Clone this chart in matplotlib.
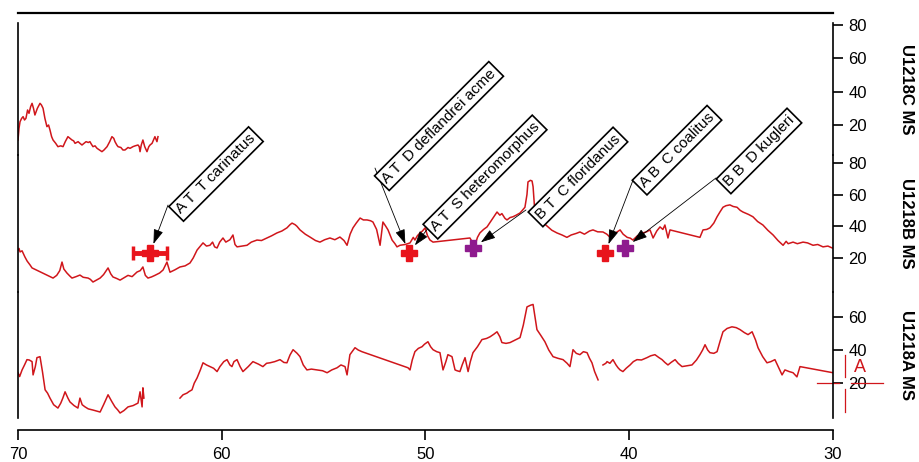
import numpy as np
import matplotlib
matplotlib.use('Agg')
import matplotlib.pyplot as plt

plt.rcParams['font.family'] = ['Liberation Sans', 'DejaVu Sans']

nan = np.nan

# U1218C magnetic susceptibility vs age (Ma)
c_age = [70.00, 69.95, 69.90, 69.82, 69.75, 69.68, 69.61, 69.53, 69.46, 69.38,
         69.31, 69.24, 69.17, 69.05, 68.92, 68.85, 68.77, 68.68, 68.58, 68.50,
         68.43, 68.35, 68.28, 68.15, 68.04, 67.90, 67.79, 67.68, 67.55, 67.45,
         67.35, 67.27, 67.20, 67.05, 66.96, 66.86, 66.76, 66.66, 66.55, 66.47,
         66.40, 66.32, 66.22, 66.12, 66.00, 65.88, 65.78, 65.63, 65.50, 65.39,
         65.30, 65.24, 65.15, 65.09, 64.95, 64.85, 64.75, 64.60, 64.50, 64.36,
         64.25, 64.11, 64.05, 64.01, 63.95, 63.87, 63.78, 63.67, 63.58, 63.52,
         63.42, 63.35, 63.28, 63.18, 63.13]
c_ms = [11, 18, 22, 24, 25, 23, 24, 29, 27, 31,
        33, 30, 26, 30, 33, 32, 30, 24, 19, 20,
        17, 13, 11, 9, 7, 7.5, 7, 10, 13, 12,
        11, 10.5, 9, 10, 9, 8, 9, 10, 9.5, 10,
        8.5, 7, 7.5, 6, 5, 4, 5, 7, 10, 13,
        12, 10, 8, 7, 6.5, 5, 5, 6.5, 6, 7,
        7.5, 8, 7, 4, 8, 11, 7, 4, 7, 8,
        9, 11, 13, 10, 13]

# U1218B
b_age = [70.00, 69.95, 69.90, 69.80, 69.66, 69.55, 69.41, 69.31, 68.28, 68.10,
         67.95, 67.84, 67.75, 67.60, 67.45, 67.35, 67.15, 66.96, 66.80, 66.56,
         66.45, 66.32, 66.15, 65.97, 65.80, 65.58, 65.45, 65.34, 65.15, 64.99,
         64.80, 64.60, 64.40, 64.16, 64.00, 63.87, 63.75, 63.62, 63.45, 63.28,
         63.05, 62.88, 62.69, 62.54, 62.30, 62.05, 61.80, 61.56, 61.40, 61.21,
         61.05, 60.92, 60.75, 60.58, 60.45, 60.35, 60.23, 60.10, 59.94, 59.80,
         59.60, 59.45, 59.35, 59.25, 59.00, 58.76, 58.55, 58.27, 58.05, 57.78,
         57.55, 57.29, 57.05, 56.80, 56.65, 56.55, 56.40, 56.31, 56.16, 55.90,
         55.67, 55.40, 55.18, 54.95, 54.69, 54.45, 54.20, 54.00, 53.85, 53.70,
         53.56, 53.40, 53.21, 53.05, 52.87, 52.70, 52.58, 52.40, 52.23, 52.09,
         51.95, 51.84, 51.64, 51.50, 51.40, 51.25, 51.00, 50.76, 50.60, 50.52,
         50.40, 50.27, 50.15, 50.02, 49.90, 49.78, 49.63, 47.82, 47.70, 47.57,
         47.45, 47.33, 47.15, 46.98, 46.75, 46.49, 46.35, 46.25, 46.10, 46.00,
         45.85, 45.71, 45.55, 45.36, 45.25, 45.12, 45.02, 44.97, 44.85, 44.77,
         44.72, 44.63, 44.40, 44.20, 43.99, 43.80, 43.55, 43.30, 43.06, 42.85,
         42.60, 42.42, 42.20, 41.95, 41.78, 41.55, 41.29, 41.10, 40.94, 40.75,
         40.60, 40.45, 40.30, 40.10, 39.95, 39.82, 39.60, 39.33, 39.15, 38.98,
         38.83, 38.65, 38.49, 38.35, 38.25, 38.10, 38.00, 36.53, 36.38, 36.20,
         36.04, 35.85, 35.69, 35.55, 35.40, 35.25, 35.06, 34.90, 34.71, 34.55,
         34.42, 34.15, 33.93, 33.70, 33.44, 33.20, 32.94, 32.70, 32.45, 32.30,
         32.20, 31.96, 31.75, 31.47, 31.25, 30.98, 30.75, 30.49, 30.25, 30.04]
b_ms = [25, 26, 23.8, 24.5, 20.6, 18, 15.6, 13.7, 7.3, 9,
        12, 17.4, 13, 10.5, 8.5, 7.3, 8.2, 9.2, 7.8, 7.3,
        6.5, 4.8, 6, 7.3, 9.5, 13.7, 10, 8, 7, 6,
        7.5, 9, 8.2, 11.1, 12, 14.3, 9, 7.3, 8, 9,
        10.5, 12.4, 17.4, 11, 12.5, 14.3, 15, 16.8, 20, 25,
        27.5, 29.5, 27.5, 28, 30, 27, 26.3, 30, 32.6, 30,
        31.5, 34.5, 28.5, 27, 27.5, 28, 30, 31.3, 31, 32.6,
        34, 35.8, 37, 39, 41, 42, 41, 40, 37.7, 35,
        33.2, 31, 30, 31.5, 32.6, 31.5, 33.2, 31, 28, 35,
        39, 42, 45.2, 44, 44, 43.5, 42.7, 38, 28, 42.7,
        40, 37.7, 31.3, 29, 27, 28, 28.5, 29.5, 33, 31.3,
        34, 35.8, 37, 39, 34, 31.3, 30, 32.6, 30, 28,
        33, 35.8, 38, 39.6, 44, 49, 47, 48, 45, 44,
        45.5, 46, 47, 48.4, 50, 52, 60, 68, 69, 68.6,
        65, 48.4, 45, 42, 39.6, 37.5, 35.8, 34.5, 33, 34.5,
        35.5, 36.4, 35, 37, 37.7, 36.5, 36.4, 35, 33, 35,
        36.4, 37.7, 35, 33, 32.5, 31.3, 34, 35.8, 36.5, 37.7,
        32.6, 37, 39.6, 38, 40.8, 32.6, 37.7, 33, 37.7, 38,
        39, 42, 46, 49, 52, 53, 53.5, 52.5, 52, 50,
        49, 47.5, 46, 43, 40.8, 37.5, 34.5, 31, 28, 30.5,
        29, 30, 29, 30, 29.5, 28, 28.5, 27, 27.5, 26.3]

# U1218A (nan marks core gaps)
a_age = [70.00, 69.92, 69.80, 69.68, 69.56, 69.45, 69.31, 69.26, 69.15, 69.07,
         68.92, 68.80, 68.67, 68.55, 68.43, 68.25, 68.04, 67.90, 67.80, 67.69,
         67.55, 67.45, 67.25, 67.06, 66.96, 66.85, 66.71, 66.55, 66.32, 66.15,
         65.97, 65.80, 65.58, 65.40, 65.24, 65.10, 64.99, 64.80, 64.60, 64.35,
         64.11, 64.01, 63.91, 63.87, 63.82, nan,
         62.05, 61.90, 61.71, 61.60, 61.46, 61.35, 61.21, 61.05, 60.92, 60.75,
         60.58, 60.40, 60.23, 60.09, 59.90, 59.74, 59.60, 59.50, 59.40, 59.25,
         59.10, 58.96, 58.70, 58.47, 58.20, 57.98, 57.80, 57.63, 57.40, 57.14,
         56.95, 56.80, 56.65, 56.50, 56.30, 56.16, 56.00, 55.82, 55.60, 55.33,
         55.05, 54.83, 54.60, 54.34, 54.15, 53.95, 53.85, 53.71, 53.60, 53.46,
         53.30, 53.12, 50.86, 50.76, 50.65, 50.52, 50.35, 50.17, 50.05, 49.88,
         49.75, 49.63, 49.45, 49.29, 49.14, 49.00, 48.90, 48.70, 48.55, 48.45,
         48.31, 48.20, 48.06, 47.91, 47.80, 47.67, 47.45, 47.23, 47.00, 46.83,
         46.65, 46.49, 46.35, 46.25, 46.05, 45.85, 45.60, 45.36, 45.20, 45.02,
         44.85, 44.72, 44.53, 44.35, 44.14, 43.95, 43.74, 43.50, 43.25, 43.05,
         42.91, 42.76, 42.60, 42.42, 42.25, 42.07, 41.95, 41.83, 41.70, 41.53, nan,
         41.29, 41.15, 41.09, 40.95, 40.80, 40.65, 40.55, 40.45, 40.31, 40.15,
         39.96, 39.80, 39.62, 39.40, 39.13, 38.95, 38.74, 38.55, 38.39, 38.25,
         38.10, 37.95, 37.75, 37.60, 37.41, 37.15, 36.92, 36.70, 36.53, 36.40,
         36.28, 36.15, 36.04, 35.85, 35.69, 35.55, 35.40, 35.20, 34.96, 34.75,
         34.56, 34.35, 34.17, 33.97, 33.80, 33.68, 33.45, 33.24, 33.05, 32.85,
         32.65, 32.50, 32.36, 32.15, 31.96, 31.77, 31.62, 30.00]
a_ms = [26.3, 24, 28, 31, 34.2, 34, 33, 25, 30, 35.4,
        36, 27, 16, 14, 11, 7, 5, 8, 11, 14.8,
        11, 8.7, 6.5, 5, 11, 7, 5.7, 4.5, 3.8, 3.2,
        2.6, 7, 13, 9, 5.7, 3.8, 2, 3.5, 5.7, 6.5,
        8, 14.8, 5.7, 17.2, 11, nan,
        11, 13, 14, 15, 16, 20, 23.2, 28, 32.3, 31,
        30, 29, 27, 30, 33, 34.2, 31, 30, 33, 34.2,
        30, 27, 30, 33, 31.5, 30, 32, 32.3, 33, 34.2,
        32.5, 32.3, 37, 40.2, 38, 36, 31, 28, 28.5, 28,
        27.5, 26.3, 28, 29.3, 31, 30, 25, 37.2, 39, 41.4,
        40, 39, 29.3, 28, 34, 39, 41, 42, 43.5, 45,
        42, 40.2, 39, 38.4, 28, 33, 37.2, 36, 28, 27.5,
        27, 31, 35.4, 27, 33, 38.4, 42, 46.3, 47, 48,
        49.5, 51, 48, 44.5, 44, 44.5, 46, 47.5, 55, 66,
        67, 67.5, 52.3, 49, 45, 40, 36, 35, 34.2, 32,
        30, 40.2, 38, 37.2, 39, 38.4, 35, 32.3, 27, 22, nan,
        31, 32, 33, 32, 34.2, 31, 29.3, 28, 27, 29,
        31, 33, 34.2, 34, 35.4, 36.5, 37.2, 35.5, 34.2, 32.5,
        31, 32.5, 34.2, 32, 30, 30.5, 31, 34, 37.2, 40,
        43.2, 40, 38.4, 38, 39, 45, 51, 53, 54, 53.5,
        52.3, 50.5, 49.3, 51, 46, 41.4, 36, 32.3, 33, 34.2,
        29, 25, 28, 27, 26.3, 23.8, 30, 26.3]

track_names = ['U1218C MS', 'U1218B MS', 'U1218A MS']
track_ticks = [[20, 40, 60, 80], [20, 40, 60, 80], [20, 40, 60]]
age_ticks = [70, 60, 50, 40, 30]

# biostratigraphic datums (plotted on U1218B)
carinatus_age = 63.52
carinatus_err = 0.83
carinatus_ms = 23.1
red_age = [50.81, 41.19]
red_ms = [23.1, 23.0]
purple_age = [47.67, 40.21]
purple_ms = [26.3, 26.3]

event_labels = ['A T  T carinatus', 'A T  D deflandrei acme', 'A T  S heteromorphus',
                'B T  C floridanus', 'A B  C coalitus', 'B B  D kugleri']
event_age = [63.52, 50.81, 50.81, 47.67, 41.19, 40.21]
event_ms = [23.1, 23.1, 23.1, 26.3, 23.0, 26.3]

# cursor A on U1218A
cursor_age = 29.41
cursor_ms = 20.2

# ---- layout ----
red = '#d0161b'
purple = '#8e1b8e'
W, H = 920, 462
fig = plt.figure(figsize=(W / 100, H / 100), dpi=100)
left, right = 18, 833
tracks_px = [(23, 155), (155, 292), (292, 418)]
ylims = [(2, 81.2), (-1.5, 85), (-1, 75)]

axes = []
for (top, bot), ylim, name, ticks in zip(tracks_px, ylims, track_names, track_ticks):
    ax = fig.add_axes([left / W, 1 - bot / H, (right - left) / W, (bot - top) / H])
    ax.set_facecolor('none')
    ax.set_xlim(70, 30)
    ax.set_ylim(*ylim)
    for s in ['top', 'bottom']:
        ax.spines[s].set_visible(False)
    for s in ['left', 'right']:
        ax.spines[s].set_linewidth(1.2)
    ax.yaxis.tick_right()
    ax.set_yticks(ticks)
    ax.tick_params(axis='y', direction='out', length=7, width=1.2, pad=4, labelsize=12)
    ax.set_xticks([])
    ax.yaxis.set_label_position('right')
    ax.set_ylabel(name, rotation=270, fontsize=12, fontweight='bold', va='center', ha='center')
    ax.yaxis.set_label_coords(1.0896, 0.5)
    axes.append(ax)

ax_c, ax_b, ax_a = axes
ax_b.set_zorder(3)

ax_c.spines['top'].set_visible(True)
ax_c.spines['top'].set_linewidth(1.6)
ax_c.spines['top'].set_position(('outward', 7.2))

ax_a.spines['bottom'].set_visible(True)
ax_a.spines['bottom'].set_linewidth(1.2)
ax_a.spines['bottom'].set_position(('outward', 8.6))
ax_a.set_xticks(age_ticks)
ax_a.tick_params(axis='x', direction='out', length=7, width=1.2, pad=5, labelsize=12)

ax_c.plot(c_age, c_ms, color=red, lw=1.1)
ax_b.plot(b_age, b_ms, color=red, lw=1.1)
ax_a.plot(a_age, a_ms, color=red, lw=1.1)

# datum markers
ax_b.errorbar(carinatus_age, carinatus_ms, xerr=carinatus_err, fmt='P', color='#e8141c',
              ms=11, elinewidth=3.5, capsize=5, capthick=2.5, zorder=5)
ax_b.plot(red_age, red_ms, 'P', color='#e8141c', ms=11, mec='#e8141c', zorder=5)
ax_b.plot(purple_age, purple_ms, 'P', color=purple, ms=11, mec=purple, zorder=5)

# label boxes and arrows (offsets in pixels from datum)
label_offset = [(66, 79), (30, 127), (76, 76), (105, 71), (72, 103), (134, 97)]
arrow_start = [(18, 48), (-34, 85), (23, 30), (53, 38), (28, 73), (91, 70)]

for lab, x, y, lo, ao in zip(event_labels, event_age, event_ms, label_offset, arrow_start):
    ax_b.annotate('', xy=(x, y), xytext=ao, textcoords='offset pixels',
                  annotation_clip=False,
                  arrowprops=dict(arrowstyle='-|>,head_length=0.9,head_width=0.3',
                                  color='black', lw=0.6, shrinkA=0, shrinkB=7,
                                  mutation_scale=10))
    ax_b.annotate(lab, xy=(x, y), xytext=lo, textcoords='offset pixels',
                  rotation=45, rotation_mode='anchor', ha='center', va='center',
                  fontsize=11, annotation_clip=False,
                  bbox=dict(boxstyle='square,pad=0.22', fc='white', ec='black', lw=1.2))

# cursor crosshair
ax_a.plot([30.79, 29.70], [cursor_ms, cursor_ms], color=red, lw=0.9, clip_on=False)
ax_a.plot([29.12, 27.55], [cursor_ms, cursor_ms], color=red, lw=0.9, clip_on=False)
ax_a.plot([cursor_age, cursor_age], [37.2, 23.8], color=red, lw=0.9, clip_on=False)
ax_a.plot([cursor_age, cursor_age], [16.6, 2.6], color=red, lw=0.9, clip_on=False)
ax_a.text(28.67, 29.3, 'A', color=red, fontsize=13, ha='center', va='center', clip_on=False)

fig.savefig('out.png', dpi=100)
